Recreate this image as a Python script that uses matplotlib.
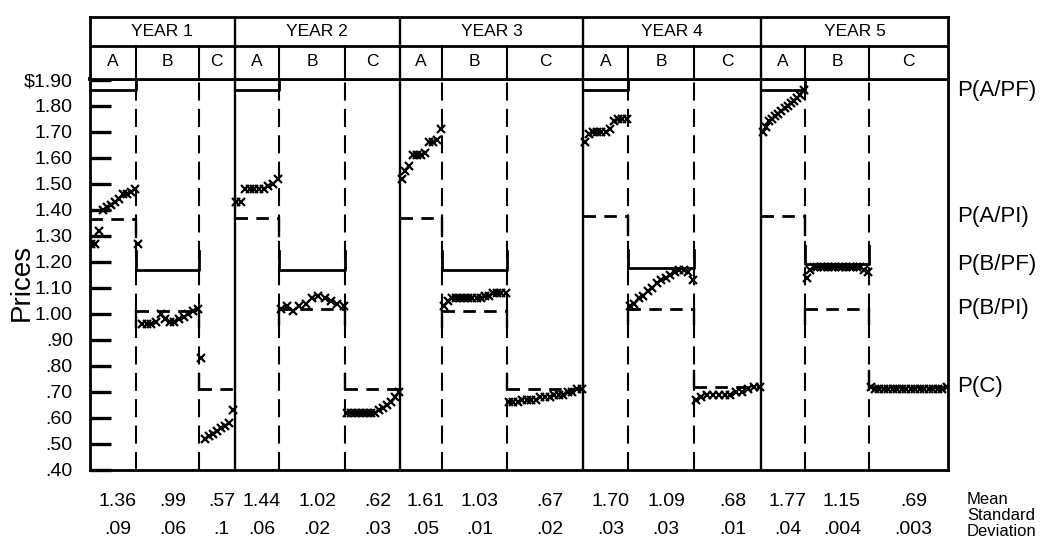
import numpy as np
import matplotlib.pyplot as plt
from matplotlib.transforms import blended_transform_factory, ScaledTranslation

plt.rcParams['font.family'] = ['Liberation Sans', 'DejaVu Sans']
plt.rcParams['lines.scale_dashes'] = False

years = ["YEAR 1", "YEAR 2", "YEAR 3", "YEAR 4", "YEAR 5"]
periods = ["A", "B", "C"]
# length of each trading period (A, B, C for every year), in time units
period_len = [46.5, 63, 35.5, 44.5, 66, 55, 42, 65, 76, 45, 66, 67, 44, 64, 79]

# predicted prices per year: perfect foresight (PF) / private information (PI)
p_a_pf = [1.86, 1.86, np.nan, 1.86, 1.86]
p_a_pi = [1.365, 1.37, 1.37, 1.375, 1.375]
p_b_pf = [1.17, 1.17, 1.17, 1.175, 1.19]
p_b_pi = [1.01, 1.02, 1.01, 1.02, 1.02]
p_c = [0.71, 0.71, 0.71, 0.72, 0.72]

# contract prices, trade by trade
y1a = [1.27, 1.27, 1.32, 1.40, 1.41, 1.42, 1.43, 1.44, 1.46, 1.46, 1.47, 1.48]
y1b = [1.27, 0.96, 0.96, 0.96, 0.97, 1.00, 0.98, 0.97, 0.97, 0.98, 0.99, 1.00, 1.01, 1.02]
y1c = [0.83, 0.52, 0.53, 0.54, 0.55, 0.56, 0.57, 0.58, 0.63]
y2a = [1.43, 1.43, 1.48, 1.48, 1.48, 1.48, 1.48, 1.49, 1.50, 1.52]
y2b = [1.02, 1.03, 1.01, 1.03, 1.04, 1.06, 1.07, 1.06, 1.05, 1.04, 1.03]
y2c = [0.62, 0.62, 0.62, 0.62, 0.62, 0.62, 0.62, 0.62, 0.63, 0.64, 0.65, 0.66, 0.68, 0.70]
y3a = [1.52, 1.55, 1.57, 1.61, 1.61, 1.61, 1.62, 1.66, 1.66, 1.67, 1.71]
y3b = [1.03, 1.05, 1.06, 1.06, 1.06, 1.06, 1.06, 1.06, 1.06, 1.06, 1.07, 1.07, 1.08, 1.08, 1.08, 1.08]
y3c = [0.66, 0.66, 0.66, 0.67, 0.67, 0.67, 0.67, 0.68, 0.68, 0.68, 0.69, 0.69, 0.69, 0.70, 0.70, 0.71, 0.71]
y4a = [1.66, 1.69, 1.70, 1.70, 1.70, 1.70, 1.71, 1.74, 1.75, 1.75, 1.75]
y4b = [1.03, 1.04, 1.06, 1.07, 1.09, 1.10, 1.12, 1.13, 1.14, 1.15, 1.16, 1.17, 1.17, 1.16, 1.13]
y4c = [0.67, 0.68, 0.69, 0.69, 0.69, 0.69, 0.69, 0.70, 0.70, 0.71, 0.72, 0.72]
y5a = [1.70, 1.72, 1.74, 1.75, 1.76, 1.77, 1.78, 1.79, 1.80, 1.81, 1.82, 1.83, 1.84, 1.86]
y5b = [1.14, 1.17, 1.18, 1.18, 1.18, 1.18, 1.18, 1.18, 1.18, 1.18, 1.18, 1.18, 1.18, 1.18, 1.18, 1.18, 1.17, 1.16]
y5c = [0.72, 0.71, 0.71, 0.71, 0.71, 0.71, 0.71, 0.71, 0.71, 0.71, 0.71, 0.71, 0.71, 0.71, 0.71, 0.71, 0.71, 0.72]
trades = [y1a, y1b, y1c, y2a, y2b, y2c, y3a, y3b, y3c, y4a, y4b, y4c, y5a, y5b, y5c]

mean_labels = ["1.36", ".99", ".57", "1.44", "1.02", ".62", "1.61", "1.03", ".67",
               "1.70", "1.09", ".68", "1.77", "1.15", ".69"]
sd_labels = [".09", ".06", ".1", ".06", ".02", ".03", ".05", ".01", ".02",
             ".03", ".03", ".01", ".04", ".004", ".003"]

price_ticks = np.round(np.arange(0.40, 1.91, 0.10), 2)
price_labels = [(f"{v:.2f}" if v >= 1 else f"{v:.2f}"[1:]) for v in price_ticks]
price_labels[-1] = r"\$1.90"

edges = np.concatenate([[0], np.cumsum(period_len)])
W, H = 1057, 542
L, R, T, B = 89.5, 948, 78.5, 470
top = 1.905

fig = plt.figure(figsize=(W / 100, H / 100), dpi=100)
ax = fig.add_axes([L / W, 1 - B / H, (R - L) / W, (B - T) / H])
ax.set_xlim(0, edges[-1])
ax.set_ylim(0.40, top)
for s in ax.spines.values():
    s.set_linewidth(2.0)
ax.spines['top'].set_linewidth(2.8)

ax.set_xticks([])
ax.set_yticks(price_ticks)
ax.set_yticklabels(price_labels)
ax.tick_params(axis='y', direction='in', length=15, width=2.4, pad=12, labelsize=14)

dash_v = (0, (13, 6))
dash_h = (0, (9, 6))
for k in range(5):
    x0, xab, xbc, x1 = edges[3 * k: 3 * k + 4]
    if k > 0:
        ax.axvline(x0, color='k', lw=1.7)
    for xv in (xab, xbc):
        ax.axvline(xv, color='k', lw=1.5, linestyle=dash_v)

    # period A
    if not np.isnan(p_a_pf[k]):
        ax.plot([x0, xab, xab], [p_a_pf[k], p_a_pf[k], top], 'k-', lw=2.0)
    ax.plot([x0, xab], [p_a_pi[k]] * 2, color='k', lw=2.0, linestyle=dash_h)
    ax.plot([xab, xab], [p_a_pi[k], p_a_pi[k] - 0.07], 'k-', lw=1.7)
    # period B
    ax.plot([xab, xab, xbc, xbc], [p_b_pf[k] + 0.07, p_b_pf[k], p_b_pf[k], p_b_pf[k] + 0.07],
            'k-', lw=2.0)
    ax.plot([xab, xbc], [p_b_pi[k]] * 2, color='k', lw=2.0, linestyle=dash_h)
    ax.plot([xab, xab], [p_b_pi[k], p_b_pi[k] - 0.06], 'k-', lw=1.7)
    ax.plot([xbc, xbc], [p_b_pi[k], p_b_pi[k] - 0.06], 'k-', lw=1.7)
    # period C
    ax.plot([xbc, xbc], [p_c[k] + 0.06, p_c[k]], 'k-', lw=1.7)
    ax.plot([xbc, x1], [p_c[k]] * 2, color='k', lw=2.0, linestyle=dash_h)

for i, t in enumerate(trades):
    xs = np.linspace(edges[i] + 1.5, edges[i + 1] - 1.5, len(t))
    ax.plot(xs, t, linestyle='none', color='k', marker='x', ms=6, mew=1.6)

fig.text(22 / W, 1 - 282 / H, "Prices", rotation=90, fontsize=20, ha='center', va='center')

# right-hand line labels, at the year 5 levels
rt = blended_transform_factory(ax.transAxes, ax.transData)
for lab, val in [("P(A/PF)", p_a_pf[4]), ("P(A/PI)", p_a_pi[4]), ("P(B/PF)", p_b_pf[4]),
                 ("P(B/PI)", p_b_pi[4]), ("P(C)", p_c[4])]:
    ax.text(1.011, val, lab, transform=rt, fontsize=16, ha='left', va='center')

# header with years and periods
hax = fig.add_axes([L / W, 1 - T / H, (R - L) / W, (T - 17) / H])
hax.set_xlim(0, edges[-1])
hax.set_ylim(0, 1)
hax.set_xticks([])
hax.set_yticks([])
for s in hax.spines.values():
    s.set_linewidth(2.0)
split = 33 / (T - 17)
hax.axhline(split, color='k', lw=2.0)
for k in range(5):
    x0, xab, xbc, x1 = edges[3 * k: 3 * k + 4]
    if k > 0:
        hax.axvline(x0, color='k', lw=1.7)
    hax.text((x0 + x1) / 2, (1 + split) / 2, years[k], fontsize=12.5, ha='center', va='center')
    for xv in (xab, xbc):
        hax.plot([xv, xv], [0, split], 'k-', lw=1.5)
    for j, name in enumerate(periods):
        hax.text((edges[3 * k + j] + edges[3 * k + j + 1]) / 2, split / 2, name,
                 fontsize=12.5, ha='center', va='center')

# period means and standard deviations under the chart
bt = blended_transform_factory(ax.transData, fig.transFigure)
shift = ScaledTranslation(5 / 100, 0, fig.dpi_scale_trans)
for i in range(15):
    xc = (edges[i] + edges[i + 1]) / 2
    ax.text(xc, 1 - 502 / H, mean_labels[i], transform=bt + shift, fontsize=14,
            ha='center', va='center')
    ax.text(xc, 1 - 530 / H, sd_labels[i], transform=bt + shift, fontsize=14,
            ha='center', va='center')
for lab, yy in [("Mean", 500), ("Standard", 516), ("Deviation", 532)]:
    fig.text(967 / W, 1 - yy / H, lab, fontsize=12, ha='left', va='center')

fig.savefig("out.png", dpi=100)
